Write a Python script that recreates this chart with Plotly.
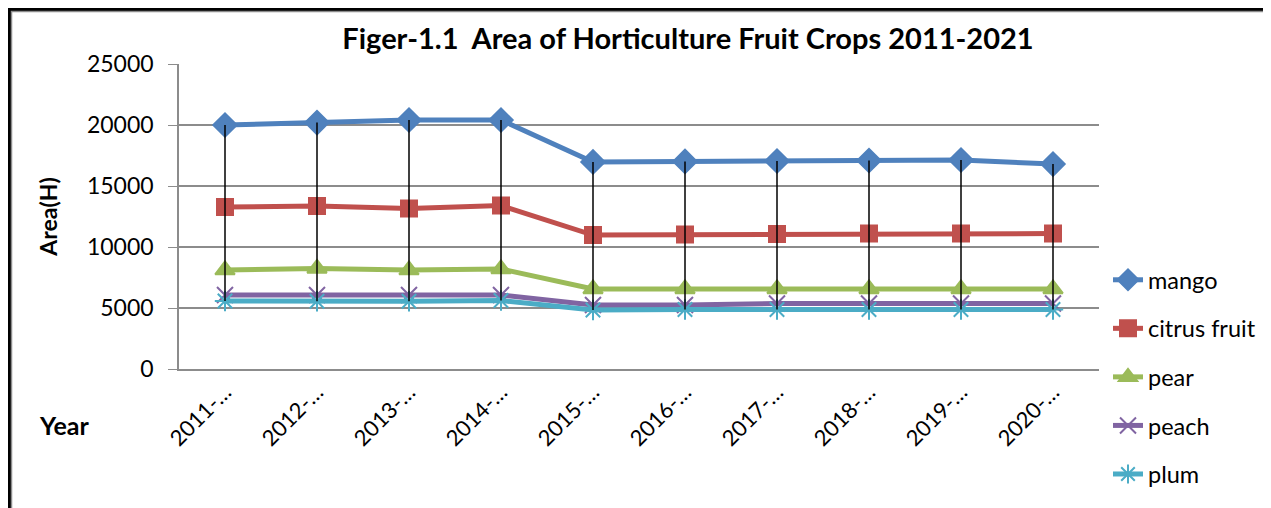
import plotly.graph_objects as go

years = ["2011-…", "2012-…", "2013-…", "2014-…", "2015-…", "2016-…", "2017-…", "2018-…", "2019-…", "2020-…"]
mango = [20000, 20200, 20410, 20410, 16970, 17010, 17050, 17090, 17130, 16800]
citrus = [13280, 13360, 13160, 13400, 10980, 11025, 11065, 11105, 11105, 11105]
pear = [8115, 8240, 8115, 8200, 6560, 6560, 6560, 6560, 6560, 6560]
peach = [6070, 6070, 6070, 6070, 5250, 5250, 5370, 5370, 5370, 5370]
plum = [5575, 5550, 5550, 5615, 4840, 4880, 4880, 4880, 4880, 4880]

series = [
    ("mango", mango, "#4F81BD", "diamond", 18),
    ("citrus fruit", citrus, "#C0504D", "square", 16),
    ("pear", pear, "#9BBB59", "triangle-up", 17),
    ("peach", peach, "#8064A2", "x-thin-open", 16),
    ("plum", plum, "#4BACC6", "asterisk-open", 17),
]

FONT = "Lato"
W, H = 1263, 500          # figure sits at (8,8) in the page
OX, OY = 8, 8
L, R, T, B = 179 - OX, W - (1099 - OX), 64 - OY, H - (369 - OY)
PW, PH = W - L - R, H - T - B

fig = go.Figure()

# high-low lines (from highest to lowest series at each category)
hx, hy = [], []
for i, c in enumerate(years):
    vals = [s[1][i] for s in series]
    hx += [c, c, None]
    hy += [max(vals), min(vals), None]

for name, vals, color, sym, size in series:
    fig.add_trace(go.Scatter(
        x=years, y=vals, name=name, mode="lines+markers",
        line=dict(color=color, width=5),
        marker=dict(symbol=sym, size=size, color=color,
                    line=dict(color=color, width=2)),
        legendgroup=name,
    ))

fig.add_trace(go.Scatter(x=hx, y=hy, mode="lines", line=dict(color="black", width=1.5),
                         showlegend=False, hoverinfo="skip"))

def px_x(wx):
    return (wx - OX - L) / PW

def px_y(wy):
    return (H - B - (wy - OY)) / PH

def cx(wx):
    return (wx - OX) / W

def cy(wy):
    return 1 - (wy - OY) / H

fig.update_layout(
    width=W, height=H, autosize=False,
    paper_bgcolor="white", plot_bgcolor="white",
    margin=dict(l=L, r=R, t=T, b=B, autoexpand=False),
    font=dict(family=FONT, color="black", size=22),
    title=dict(text="<b>Figer-1.1  Area of Horticulture Fruit Crops 2011-2021</b>",
               x=cx(688), xanchor="center", xref="container",
               y=cy(39), yanchor="middle", yref="container",
               font=dict(size=29, family=FONT)),
    showlegend=True,
    legend=dict(x=px_x(1108), y=px_y(258), xanchor="left", yanchor="top",
                font=dict(size=23.5, family=FONT),
                tracegroupgap=15, bgcolor="rgba(0,0,0,0)", itemwidth=30),
    xaxis=dict(showgrid=False, showline=True, linecolor="#8c8c8c", linewidth=1.5,
               tickangle=-45, ticks="", tickfont=dict(size=22),
               range=[-0.5, 9.5], zeroline=False, automargin=False),
    yaxis=dict(range=[0, 25000], dtick=5000, tickformat="d", showgrid=True,
               gridcolor="#8c8c8c", gridwidth=1.5,
               showline=True, linecolor="#8c8c8c", linewidth=1.5, ticks="outside",
               ticklen=9, tickcolor="#8c8c8c", tickfont=dict(size=23), zeroline=False,
               automargin=False, ticklabelstandoff=10,
               title=dict(text="<b>Area(H)</b>", font=dict(size=23), standoff=23)),
    annotations=[dict(text="<b>Year</b>", x=px_x(64), y=px_y(425), xref="paper",
                      yref="paper", xanchor="center", yanchor="middle",
                      showarrow=False, font=dict(size=25))],
)

# outer chart frame (black edge with grey inner edge), cut off at right/bottom
fig.add_shape(type="rect", xref="paper", yref="paper",
              x0=px_x(9.5), x1=px_x(1400), y0=px_y(600), y1=px_y(9.5),
              line=dict(color="black", width=3), layer="below")
fig.add_shape(type="rect", xref="paper", yref="paper",
              x0=px_x(11.5), x1=px_x(1400), y0=px_y(600), y1=px_y(11.5),
              line=dict(color="#8c8c8c", width=1.5), layer="below")

fig.write_html("out.html")
